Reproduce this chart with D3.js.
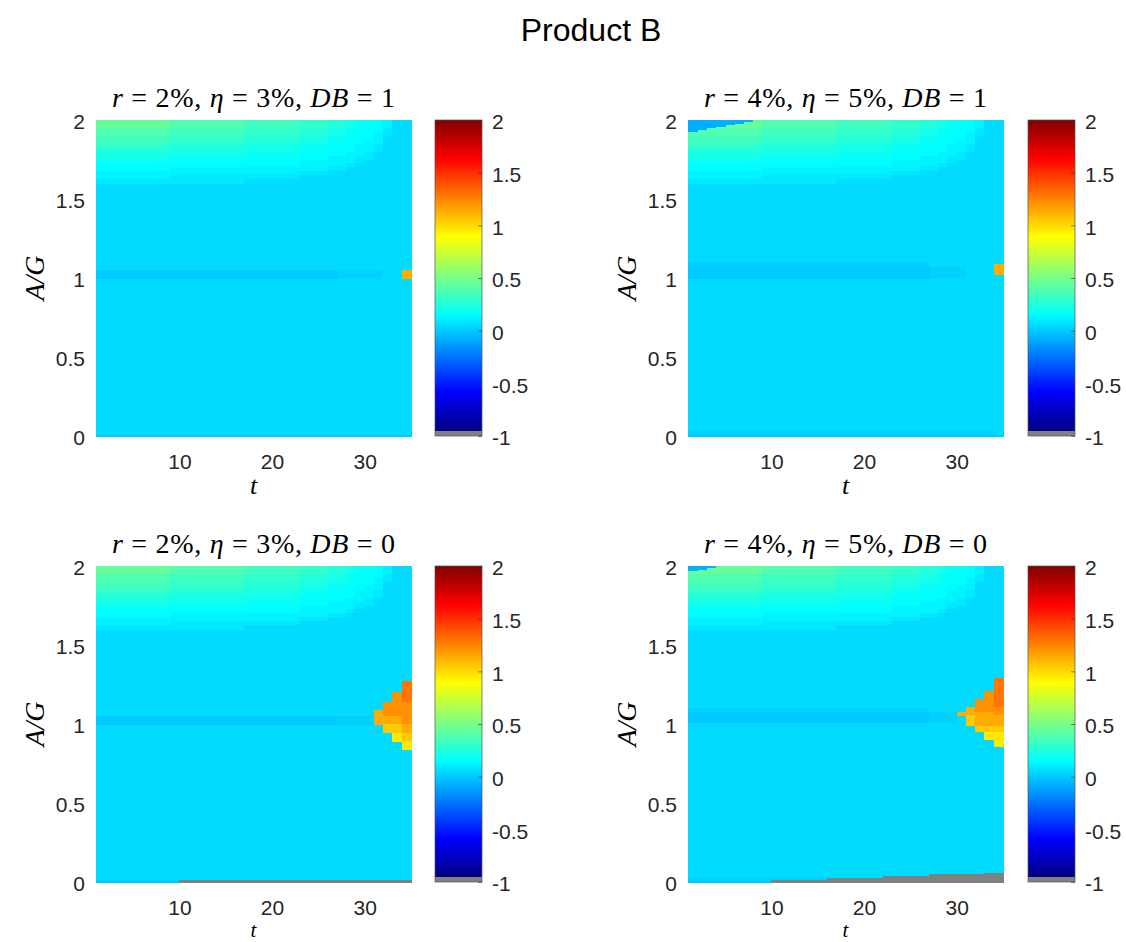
<!DOCTYPE html>
<html><head><meta charset="utf-8">
<script src="https://cdn.jsdelivr.net/npm/d3@7"></script>
<style>body{margin:0;background:#fff;}svg{display:block;}</style>
</head><body>
<svg id="chart" width="1126" height="942"></svg>
<script>
// ---------------- DATA ----------------
const chartTitle = "Product B";
const tTicks = [10, 20, 30];
const agTicks = [0, 0.5, 1, 1.5, 2];
const agTickLabels = ["0", "0.5", "1", "1.5", "2"];
const cbTicks = [-1, -0.5, 0, 0.5, 1, 1.5, 2];
const cbTickLabels = ["-1", "-0.5", "0", "0.5", "1", "1.5", "2"];
const tDomain = [1, 35];
const agDomain = [0, 2];
const cbDomain = [-1, 2];
const rValues = ["2%", "4%", "2%", "4%"];
const etaValues = ["3%", "5%", "3%", "5%"];
const dbValues = ["1", "1", "0", "0"];

// cell codes -> value (g = below range / NaN, drawn grey)
const levelCodes  = ["g",  "b",   "l",    "m",   "0",  "1",  "2",  "3",  "4",  "5",  "6",  "7",  "8",  "9",  "A",  "Y",  "y",  "o",  "O",  "R"];
const levelValues = [-9,   -0.11, -0.035, -0.01, 0.02, 0.06, 0.09, 0.12, 0.15, 0.19, 0.23, 0.27, 0.31, 0.36, 0.42, 0.94, 1.03, 1.12, 1.20, 1.28];

// bands: [A/G low, A/G high, one code per t column (t = 1..34); "." = nothing drawn]
const baseBands = [
  [0.000, 2.000, "0000000000000000000000000000000000"]
];
const topBandsR2 = [
  [1.975, 2.000, "AAAAAAAA99999999888888777665443200"],
  [1.950, 1.975, "AAAAAAAA99999999888888777665443200"],
  [1.925, 1.950, "9999999988888888777777666554433100"],
  [1.900, 1.925, "9999999988888888777777666554332100"],
  [1.875, 1.900, "8888888877777777666666555444332000"],
  [1.850, 1.875, "8888888877777777666666555443322000"],
  [1.825, 1.850, "7777777766666666555555444333221000"],
  [1.800, 1.825, "6666666655555555555555444333221000"],
  [1.775, 1.800, "5555555555555555444444333332210000"],
  [1.750, 1.775, "5555555544444444444444333222110000"],
  [1.725, 1.750, "4444444444444444333333222222100000"],
  [1.700, 1.725, "3333333333333333333333222221000000"],
  [1.675, 1.700, "3333333322222222222222222110000000"],
  [1.650, 1.675, "2222222222222222222222111000000000"],
  [1.625, 1.650, "2222222211111111111111000000000000"],
  [1.600, 1.625, "1111111111111111000000000000000000"]
];
const topBandsR4 = topBandsR2;

const lineBandsTL = [
  [1.000, 1.050, "llllllllllllllllllllllllllmmmmm00o"],
  [0.000, 0.008, "llllllllllllllllllllllllllllllllll"]
];
const lineBandsTR = [
  [1.070, 1.100, "mmmmmmmmmmmmmmmmmmmmmmmmmm........"],
  [1.000, 1.070, "llllllllllllllllllllllllllmmmm...."],
  [1.020, 1.090, ".................................o"],
  [0.008, 0.030, "mmmmmmmmmmmmmmmmmmmmmmmmmmmmmmmmm."],
  [0.000, 0.008, "llllllllllllllllllllllllllllllllll"],
  [1.990, 2.000, "bbbbbbb..........................."],
  [1.980, 1.990, "bbbbbb............................"],
  [1.970, 1.980, "bbbbb............................."],
  [1.960, 1.970, "bbbb.............................."],
  [1.950, 1.960, "bbb..............................."],
  [1.940, 1.950, "bb................................"],
  [1.930, 1.940, "b................................."]
];
const lineBandsBL = [
  [1.000, 1.050, "llllllllllllllllllllllllllmmmm...."],
  [1.200, 1.270, ".................................R"],
  [1.140, 1.200, "................................OR"],
  [1.090, 1.140, "...............................OOO"],
  [1.050, 1.090, "..............................oOOO"],
  [1.000, 1.050, "..............................oooO"],
  [0.945, 1.000, "...............................yyo"],
  [0.890, 0.945, "................................Yy"],
  [0.840, 0.890, ".................................Y"],
  [0.000, 0.010, "lllllllllggggggggggggggggggggggggg"]
];
const lineBandsBR = [
  [1.075, 1.100, "mmmmmmmmmmmmmmmmmmmmmmmmmm........"],
  [1.010, 1.075, "llllllllllllllllllllllllllmmm....."],
  [1.210, 1.290, ".................................R"],
  [1.160, 1.210, "................................OR"],
  [1.110, 1.160, "...............................OOR"],
  [1.075, 1.110, "..............................oOOO"],
  [1.055, 1.075, ".............................ooooO"],
  [0.990, 1.055, "..............................yooo"],
  [0.950, 0.990, "...............................yyy"],
  [0.900, 0.950, "................................YY"],
  [0.855, 0.900, ".................................Y"],
  [0.010, 0.030, "mmmmmmmmmmmmmmm..................."],
  [0.000, 0.010, "lllllllllggggggggggggggggggggggggg"],
  [0.010, 0.025, "...............ggggggggggggggggggg"],
  [0.025, 0.037, ".....................ggggggggggggg"],
  [0.037, 0.050, "..........................gggggggg"],
  [0.050, 0.055, "................................gg"],
  [1.990, 2.000, "bbb..............................."],
  [1.980, 1.990, "bb................................"],
  [1.970, 1.980, "b................................."]
];

// ---------------- LAYOUT ----------------
const W = 1126, H = 942;
const panelBoxes = [
  {x0: 96,  x1: 411,  y0: 120, y1: 436, cb0: 435,  cb1: 482,  tLab: 49, tSize: 26},
  {x0: 688, x1: 1003, y0: 120, y1: 436, cb0: 1028, cb1: 1075, tLab: 49, tSize: 26},
  {x0: 96,  x1: 411,  y0: 566, y1: 882, cb0: 435,  cb1: 482,  tLab: 48, tSize: 21},
  {x0: 688, x1: 1003, y0: 566, y1: 882, cb0: 1028, cb1: 1075, tLab: 48, tSize: 21}
];
const panelLayers = [
  [baseBands, topBandsR2, lineBandsTL],
  [baseBands, topBandsR4, lineBandsTR],
  [baseBands, topBandsR2, lineBandsBL],
  [baseBands, topBandsR4, lineBandsBR]
];

const tickFont = "'Liberation Sans', Arial, Helvetica, sans-serif";
const mathFont = "'Liberation Serif', 'Times New Roman', serif";
const tickColor = "#262626";
const greyColor = "#808080";

const jetStops = [-1, -0.625, 0.125, 0.875, 1.625, 2];
const jetColors = ["#000080", "#0000ff", "#00ffff", "#ffff00", "#ff0000", "#800000"];
const jet = d3.scaleLinear().domain(jetStops).range(jetColors).clamp(true);
const codeValue = new Map(levelCodes.map((c, i) => [c, levelValues[i]]));
function cellColor(v) { return v < -1 ? greyColor : jet(v); }

const svg = d3.select("#chart");
svg.append("rect").attr("width", W).attr("height", H).attr("fill", "#fff");

// jet gradient for colorbars
const defs = svg.append("defs");
const grad = defs.append("linearGradient").attr("id", "jetGrad")
  .attr("x1", 0).attr("y1", 1).attr("x2", 0).attr("y2", 0);
grad.selectAll("stop").data(jetStops).join("stop")
  .attr("offset", d => (d - jetStops[0]) / (jetStops[jetStops.length - 1] - jetStops[0]))
  .attr("stop-color", (d, i) => jetColors[i]);

svg.append("text")
  .attr("x", 591).attr("y", 30)
  .attr("text-anchor", "middle").attr("dominant-baseline", "central")
  .attr("font-family", tickFont).attr("font-size", 32).attr("fill", "#000")
  .text(chartTitle);

panelBoxes.forEach((b, pi) => {
  const g = svg.append("g");
  const x = d3.scaleLinear().domain(tDomain).range([b.x0, b.x1]);
  const y = d3.scaleLinear().domain(agDomain).range([b.y1, b.y0]);

  // cells
  const cells = [];
  panelLayers[pi].forEach(layer => layer.forEach(([lo, hi, s]) => {
    for (let i = 0; i < s.length; i++) {
      const c = s[i];
      if (c === ".") continue;
      cells.push({t: tDomain[0] + i, lo, hi, v: codeValue.get(c)});
    }
  }));
  g.append("g").attr("shape-rendering", "crispEdges")
    .selectAll("rect").data(cells).join("rect")
    .attr("x", d => x(d.t))
    .attr("width", d => x(d.t + 1) - x(d.t) + 0.5)
    .attr("y", d => y(d.hi))
    .attr("height", d => y(d.lo) - y(d.hi) + 0.5)
    .attr("fill", d => cellColor(d.v));

  // axes (labels only, MATLAB style - ticks hidden under the surface)
  const xAxis = g.append("g").attr("transform", `translate(0,${b.y1})`)
    .call(d3.axisBottom(x).tickValues(tTicks).tickSize(0).tickPadding(18));
  const yAxis = g.append("g").attr("transform", `translate(${b.x0},0)`)
    .call(d3.axisLeft(y).tickValues(agTicks).tickFormat((d, i) => agTickLabels[i]).tickSize(0).tickPadding(11));
  [xAxis, yAxis].forEach(a => {
    a.select(".domain").remove();
    a.selectAll("text").attr("font-family", tickFont).attr("font-size", 21).attr("fill", tickColor);
  });
  yAxis.selectAll("text").attr("dy", "0.42em");

  // axis labels
  g.append("text")
    .attr("x", (b.x0 + b.x1) / 2).attr("y", b.y1 + b.tLab)
    .attr("text-anchor", "middle").attr("dominant-baseline", "central")
    .attr("font-family", mathFont).attr("font-style", "italic").attr("font-size", b.tSize)
    .text("t");
  g.append("text")
    .attr("transform", `translate(${b.x0 - 62},${(b.y0 + b.y1) / 2}) rotate(-90)`)
    .attr("text-anchor", "middle").attr("dominant-baseline", "central")
    .attr("font-family", mathFont).attr("font-style", "italic").attr("font-size", 28)
    .text("A/G");

  // panel title
  const title = g.append("text")
    .attr("x", (b.x0 + b.x1) / 2).attr("y", b.y0 - 13)
    .attr("text-anchor", "middle")
    .attr("font-family", mathFont).attr("font-size", 28).attr("fill", "#000")
    .attr("textLength", 283).attr("lengthAdjust", "spacing");
  const parts = [
    ["r", true], [" = " + rValues[pi] + ", ", false],
    ["η", true], [" = " + etaValues[pi] + ", ", false],
    ["DB", true], [" = " + dbValues[pi], false]
  ];
  parts.forEach(([txt, it]) => title.append("tspan")
    .attr("font-style", it ? "italic" : "normal").text(txt));

  // colorbar: grey bottom entry + jet
  const cy = d3.scaleLinear().domain(cbDomain).range([b.y1, b.y0]);
  const greyTop = cbDomain[0] + (cbDomain[1] - cbDomain[0]) / 64;
  const cb = g.append("g");
  cb.append("rect")
    .attr("x", b.cb0).attr("width", b.cb1 - b.cb0)
    .attr("y", cy(cbDomain[1])).attr("height", cy(greyTop) - cy(cbDomain[1]))
    .attr("fill", "url(#jetGrad)");
  cb.append("rect")
    .attr("x", b.cb0).attr("width", b.cb1 - b.cb0)
    .attr("y", cy(greyTop)).attr("height", cy(cbDomain[0]) - cy(greyTop))
    .attr("fill", greyColor);
  cb.append("rect")
    .attr("x", b.cb0).attr("y", cy(cbDomain[1]))
    .attr("width", b.cb1 - b.cb0).attr("height", cy(cbDomain[0]) - cy(cbDomain[1]))
    .attr("fill", "none").attr("stroke", "#555").attr("stroke-width", 0.7);
  const cbAxis = cb.append("g").attr("transform", `translate(${b.cb1},0)`)
    .call(d3.axisRight(cy).tickValues(cbTicks).tickFormat((d, i) => cbTickLabels[i]).tickSizeInner(-4).tickSizeOuter(0).tickPadding(10));
  cbAxis.select(".domain").remove();
  cbAxis.selectAll("line").attr("stroke", "#333").attr("stroke-opacity", 0.6);
  cbAxis.selectAll("text").attr("font-family", tickFont).attr("font-size", 21).attr("fill", tickColor).attr("dy", "0.42em");
});
</script>
</body></html>
